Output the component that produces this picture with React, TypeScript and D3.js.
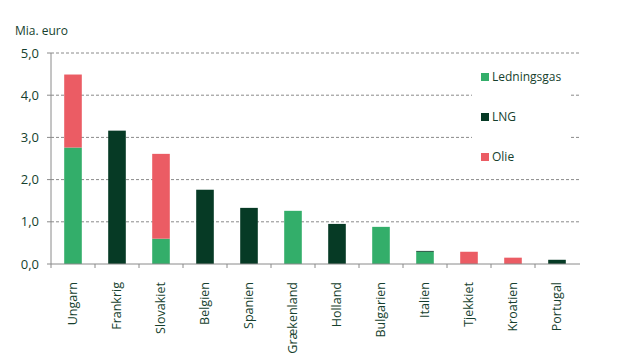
import * as d3 from 'd3'

// --- DATA ---
const countries = [
  'Ungarn', 'Frankrig', 'Slovakiet', 'Belgien', 'Spanien', 'Grækenland',
  'Holland', 'Bulgarien', 'Italien', 'Tjekkiet', 'Kroatien', 'Portugal',
]
const ledningsgas = [2.76, 0, 0.6, 0, 0, 1.26, 0, 0.88, 0.29, 0, 0, 0]
const lng = [0, 3.16, 0, 1.76, 1.33, 0, 0.95, 0, 0.02, 0, 0, 0.1]
const olie = [1.73, 0, 2.01, 0, 0, 0, 0, 0, 0, 0.29, 0.15, 0]
const seriesNames = ['Ledningsgas', 'LNG', 'Olie']
const yTicks = [0, 1, 2, 3, 4, 5]

const colors: Record<string, string> = {
  Ledningsgas: '#33ae6a',
  LNG: '#063a25',
  Olie: '#eb5c64',
}
const textColor = '#163f2e'
const axisColor = '#8a8a8a'
const font = '"Open Sans", "Noto Sans", sans-serif'

const W = 634
const H = 364
const left = 51
const right = 579
const top = 53
const bottom = 264

export default function App() {
  const rows = countries.map((c, i) => ({
    country: c,
    Ledningsgas: ledningsgas[i],
    LNG: lng[i],
    Olie: olie[i],
  }))
  const stacked = d3.stack<any>().keys(seriesNames)(rows)

  const x = d3.scaleBand().domain(countries).range([left, right]).paddingInner(0.6).paddingOuter(0.3)
  const band = d3.scaleBand().domain(countries).range([left, right])
  const y = d3.scaleLinear().domain([0, 5]).range([bottom, top])

  const legendY = [77, 117, 157]

  return (
    <svg
      width={W}
      height={H}
      style={{ position: 'absolute', left: 0, top: 0 }}
      fontFamily={font}
    >
      <rect width={W} height={H} fill="#fff" />
      <text x={15} y={35} fontSize={12} fill={textColor}>Mia. euro</text>

      {/* gridlines */}
      {yTicks.filter((t) => t > 0).map((t) => (
        <line
          key={t}
          x1={left}
          x2={right}
          y1={y(t)}
          y2={y(t)}
          stroke={axisColor}
          strokeDasharray="3,2"
          strokeWidth={1}
        />
      ))}

      {/* y axis */}
      <line x1={left} x2={left} y1={y(5)} y2={y(0)} stroke={axisColor} />
      {yTicks.map((t) => (
        <g key={t}>
          <line x1={left - 4} x2={left} y1={y(t)} y2={y(t)} stroke={axisColor} />
          <text
            x={39}
            y={y(t)}
            dy="0.35em"
            textAnchor="end"
            fontSize={13}
            fill={textColor}
          >
            {d3.format('.1f')(t).replace('.', ',')}
          </text>
        </g>
      ))}

      {/* bars */}
      {stacked.map((s) => (
        <g key={s.key} fill={colors[s.key]}>
          {s.map((d, i) =>
            d[1] - d[0] > 0 ? (
              <rect
                key={i}
                x={x(countries[i])}
                width={x.bandwidth()}
                y={y(d[1])}
                height={y(d[0]) - y(d[1])}
              />
            ) : null
          )}
        </g>
      ))}

      {/* x axis */}
      <line x1={left} x2={right + 1} y1={bottom} y2={bottom} stroke={axisColor} />
      {countries.map((c) => (
        <line
          key={c}
          x1={band(c)!}
          x2={band(c)!}
          y1={bottom}
          y2={bottom + 4}
          stroke={axisColor}
        />
      ))}
      {countries.map((c) => {
        const cx = band(c)! + band.bandwidth() / 2
        return (
          <text
            key={c}
            transform={`translate(${cx + 4},282) rotate(-90)`}
            textAnchor="end"
            fontSize={12.5}
            fill={textColor}
          >
            {c}
          </text>
        )
      })}

      {/* legend */}
      <rect x={472} y={62} width={99} height={110} fill="#fff" />
      {seriesNames.map((n, i) => (
        <g key={n}>
          <rect x={481} y={legendY[i] - 4} width={8} height={8} fill={colors[n]} />
          <text x={492} y={legendY[i]} dy="0.35em" fontSize={12} fill={textColor}>
            {n}
          </text>
        </g>
      ))}
    </svg>
  )
}
